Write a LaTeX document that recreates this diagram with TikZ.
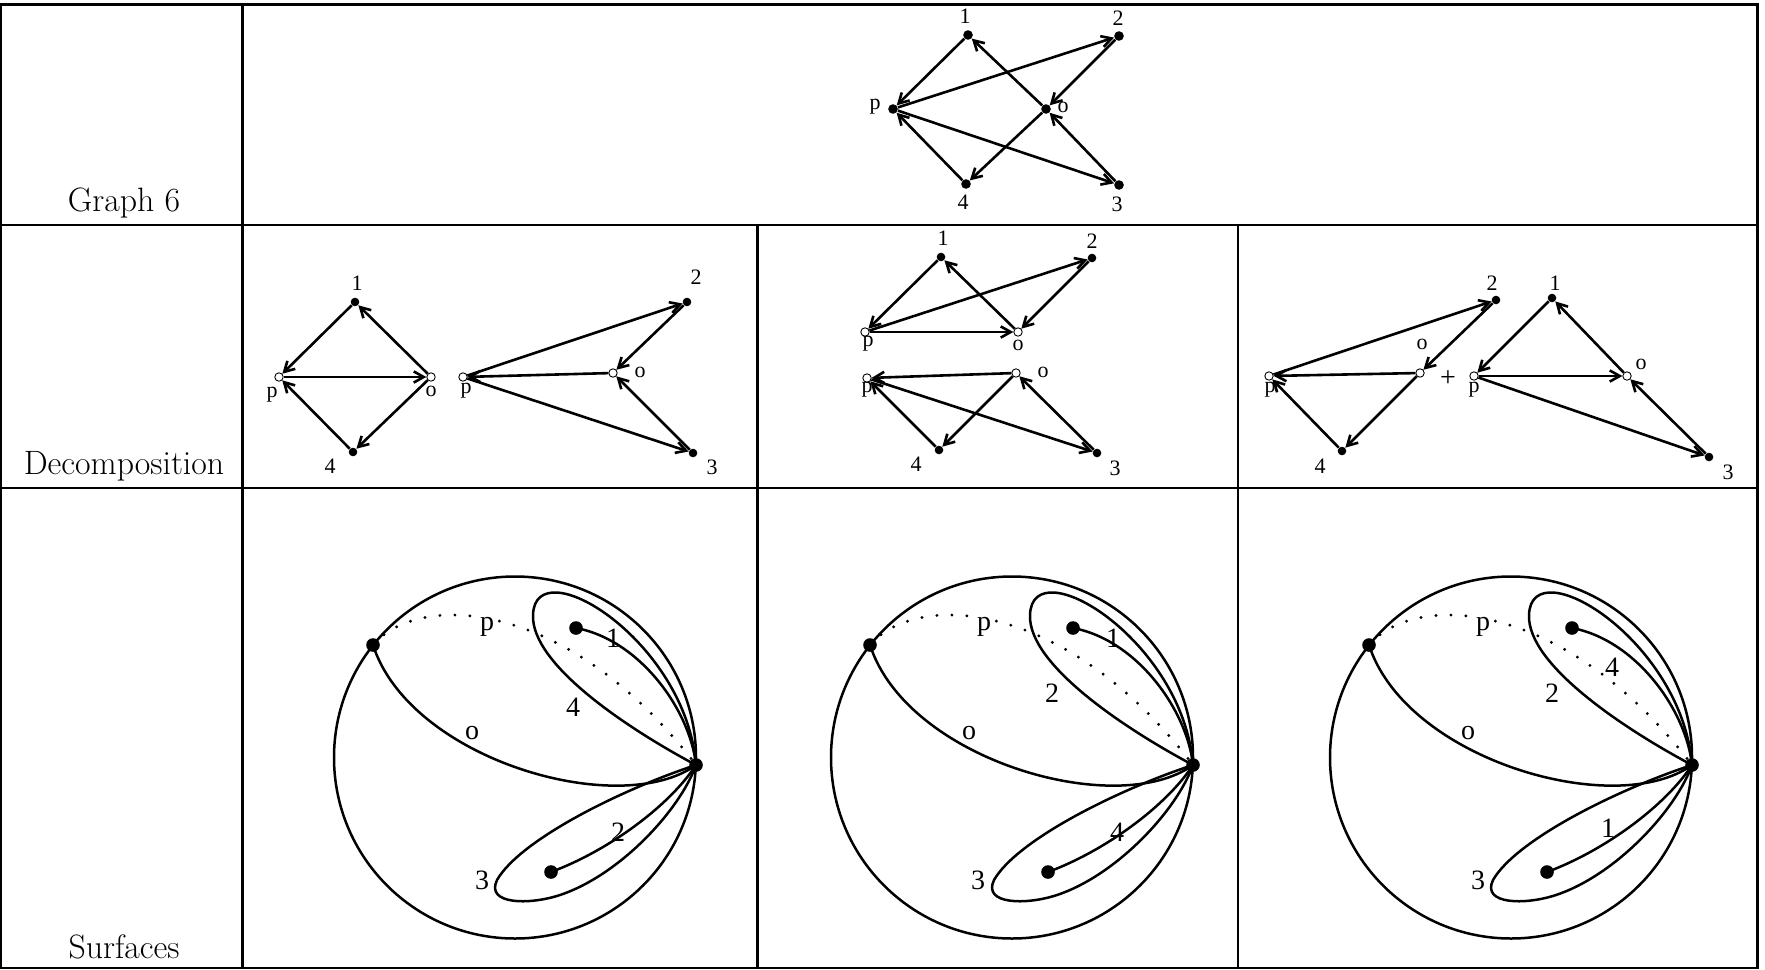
\documentclass[tikz,border=0pt]{standalone}
\usepackage{fontspec}
\newfontfamily\tnr{Liberation Serif}
\usetikzlibrary{arrows.meta}
\newcommand\glab{\tnr\fontsize{11}{11}\selectfont}
\newcommand\slab{\tnr\fontsize{14}{14}\selectfont}
\newcommand\rlab{\fontsize{16.9}{18}\selectfont}
\tikzset{
  thinrule/.style={line width=1pt},
  thickrule/.style={line width=1.5pt},
  dotA/.style={circle,fill=black,inner sep=0pt,minimum size=4.8pt},
  dotB/.style={circle,fill=black,inner sep=0pt,minimum size=4.3pt},
  opn/.style={circle,draw=black,fill=white,inner sep=0pt,minimum size=4.2pt,line width=0.45pt},
  glbl/.style={font=\glab,inner sep=0pt},
  slbl/.style={font=\slab,inner sep=0pt},
  rowlbl/.style={font=\rlab,inner sep=0pt},
  edge/.style={line width=1.3pt,-{Straight Barb[length=5pt,width=5.6pt]}},
  sdot/.style={circle,fill=black,inner sep=0pt,minimum size=6.8pt},
  sline/.style={line width=1.25pt},
  sdots/.style={line width=1.6pt,line cap=round,dash pattern=on 0pt off 7.5pt},
}
\newcommand\surfbase[1]{%
  \draw[sline] (515,757.5) circle[radius=181];
  \node[sdot] (#1L) at (373,645) {};
  \node[sdot] (#1R) at (696,765) {};
  \node[sdot] (#1A) at (576,628) {};
  \node[sdot] (#1B) at (551,872) {};
  \draw[sline] (#1L.center) .. controls (410,760) and (620,820) .. (#1R.center);
  \draw[sdots] (#1L.center) .. controls (420,590) and (570,600) .. (#1R.center);
  \draw[sline] (#1R.center) .. controls (686,640) and (535,548) .. (533,615)
     .. controls (531,665) and (630,730) .. (#1R.center);
  \draw[sline] (#1A.center) .. controls (640,640) and (690,710) .. (#1R.center);
  \draw[sline] (#1R.center) .. controls (620,790) and (520,840) .. (497,880)
     .. controls (485,905) and (530,905) .. (560,895)
     .. controls (620,875) and (680,810) .. (#1R.center);
  \draw[sline] (#1B.center) .. controls (610,850) and (670,805) .. (#1R.center);
  \node[slbl,fill=white,inner sep=1.5pt] (#1p) at (487,627) {p};
  \node[slbl] (#1o) at (472,733) {o};
}
\begin{document}
\begin{tikzpicture}[x=0.5pt,y=-0.5pt]
\useasboundingbox (0,0) rectangle (1765,969);
% table rules
\draw[thickrule] (0,4) -- (1759,4);
\draw[thinrule] (1.2,4) -- (1.2,967.5);
\draw[thickrule] (1757.5,4) -- (1757.5,967.5);
\draw[thinrule] (0,967.5) -- (1759,967.5);
\draw[thinrule] (0,224.5) -- (1759,224.5);
\draw[thinrule] (0,488) -- (1759,488);
\draw[thickrule] (242.5,4) -- (242.5,967.5);
\draw[thickrule] (757.5,224.5) -- (757.5,967.5);
\draw[thinrule] (1238,224.5) -- (1238,967.5);
% row labels
\node[rowlbl] (r1) at (124,203) {Graph 6};
\node[rowlbl] (r2) at (124,466) {Decomposition};
\node[rowlbl] (r3) at (124,947) {Surfaces};

% Graph 6
\node[dotA] (a1) at (968,35) {};
\node[dotA] (a2) at (1119,36) {};
\node[dotA] (ap) at (893,109) {};
\node[dotA] (ao) at (1046,109) {};
\node[dotA] (a4) at (966,184) {};
\node[dotA] (a3) at (1119,185) {};
\node[glbl] (a1l) at (965,16) {1};
\node[glbl] (a2l) at (1118,18) {2};
\node[glbl] (apl) at (875,107) {p};
\node[glbl] (aol) at (1063,107) {o};
\node[glbl] (a4l) at (963,202) {4};
\node[glbl] (a3l) at (1117,204) {3};
\draw[edge] (a1) -- (ap);
\draw[edge] (ap) -- (a2);
\draw[edge] (ao) -- (a1);
\draw[edge] (a2) -- (ao);
\draw[edge] (ao) -- (a4);
\draw[edge] (a4) -- (ap);
\draw[edge] (ap) -- (a3);
\draw[edge] (a3) -- (ao);

% Decomposition cell 1, left
\node[dotB] (b1) at (355,302) {};
\node[opn] (bp) at (279,377) {};
\node[opn] (bo) at (431,377) {};
\node[dotB] (b4) at (353,452) {};
\node[glbl] (b1l) at (357,283) {1};
\node[glbl] (bpl) at (272,395) {p};
\node[glbl] (bol) at (431,391) {o};
\node[glbl] (b4l) at (330,466) {4};
\draw[edge] (b1) -- (bp);
\draw[edge] (bo) -- (b1);
\draw[edge] (bp) -- (bo);
\draw[edge] (bo) -- (b4);
\draw[edge] (b4) -- (bp);
% Decomposition cell 1, right
\node[opn] (cp) at (463,377) {};
\node[opn] (co) at (613,373) {};
\node[dotB] (c2) at (687,302) {};
\node[dotB] (c3) at (693,453) {};
\node[glbl] (cpl) at (466,391) {p};
\node[glbl] (col) at (640,372) {o};
\node[glbl] (c2l) at (696,277) {2};
\node[glbl] (c3l) at (712,467) {3};
\draw[edge] (cp) -- (c2);
\draw[edge] (c2) -- (co);
\draw[edge] (co) -- (cp);
\draw[edge] (cp) -- (c3);
\draw[edge] (c3) -- (co);

% Decomposition cell 2, top
\node[dotB] (d1) at (941,257) {};
\node[dotB] (d2) at (1092,258) {};
\node[opn] (dp) at (865,332) {};
\node[opn] (do) at (1018,332) {};
\node[glbl] (d1l) at (943,238) {1};
\node[glbl] (d2l) at (1092,241) {2};
\node[glbl] (dpl) at (868,344) {p};
\node[glbl] (dol) at (1018,345) {o};
\draw[edge] (d1) -- (dp);
\draw[edge] (do) -- (d1);
\draw[edge] (dp) -- (d2);
\draw[edge] (d2) -- (do);
\draw[edge] (dp) -- (do);
% Decomposition cell 2, bottom
\node[opn] (ep) at (867,378) {};
\node[opn] (eo) at (1016,373) {};
\node[dotB] (e4) at (939,450) {};
\node[dotB] (e3) at (1097,453) {};
\node[glbl] (epl) at (867,390) {p};
\node[glbl] (eol) at (1043,372) {o};
\node[glbl] (e4l) at (916,464) {4};
\node[glbl] (e3l) at (1115,468) {3};
\draw[edge] (eo) -- (ep);
\draw[edge] (eo) -- (e4);
\draw[edge] (e4) -- (ep);
\draw[edge] (ep) -- (e3);
\draw[edge] (e3) -- (eo);

% Decomposition cell 3, left
\node[dotB] (f2) at (1496,300) {};
\node[opn] (fo) at (1420,373) {};
\node[opn] (fp) at (1269,376) {};
\node[dotB] (f4) at (1342,451) {};
\node[glbl] (f2l) at (1492,283) {2};
\node[glbl] (fol) at (1422,344) {o};
\node[glbl] (fpl) at (1270,390) {p};
\node[glbl] (f4l) at (1320,466) {4};
\draw[edge] (fp) -- (f2);
\draw[edge] (f2) -- (fo);
\draw[edge] (fo) -- (fp);
\draw[edge] (fo) -- (f4);
\draw[edge] (f4) -- (fp);
\node[font=\tnr\fontsize{14}{14}\selectfont,inner sep=0pt] (plus) at (1448,379) {+};
% Decomposition cell 3, right
\node[dotB] (g1) at (1552,298) {};
\node[opn] (gp) at (1474,376) {};
\node[opn] (go) at (1627,376) {};
\node[dotB] (g3) at (1709,457) {};
\node[glbl] (g1l) at (1555,283) {1};
\node[glbl] (gpl) at (1474,390) {p};
\node[glbl] (gol) at (1641,364) {o};
\node[glbl] (g3l) at (1728,472) {3};
\draw[edge] (g1) -- (gp);
\draw[edge] (go) -- (g1);
\draw[edge] (gp) -- (go);
\draw[edge] (gp) -- (g3);
\draw[edge] (g3) -- (go);

% Surfaces
\begin{scope}
  \surfbase{s}
  \node[slbl] (sl1) at (613,638) {1};
  \node[slbl] (sl4) at (573,707) {4};
  \node[slbl] (sl2) at (618,832) {2};
  \node[slbl] (sl3) at (482,880) {3};
\end{scope}
\begin{scope}[shift={(497,0)}]
  \surfbase{t}
  \node[slbl] (tl1) at (616,638) {1};
  \node[slbl] (tl2) at (555,693) {2};
  \node[slbl] (tl4) at (620,832) {4};
  \node[slbl] (tl3) at (481,880) {3};
\end{scope}
\begin{scope}[shift={(996,0)}]
  \surfbase{u}
  \node[slbl] (ul4) at (616,667) {4};
  \node[slbl] (ul2) at (556,693) {2};
  \node[slbl] (ul1) at (612,828) {1};
  \node[slbl] (ul3) at (482,880) {3};
\end{scope}
\end{tikzpicture}
\end{document}
